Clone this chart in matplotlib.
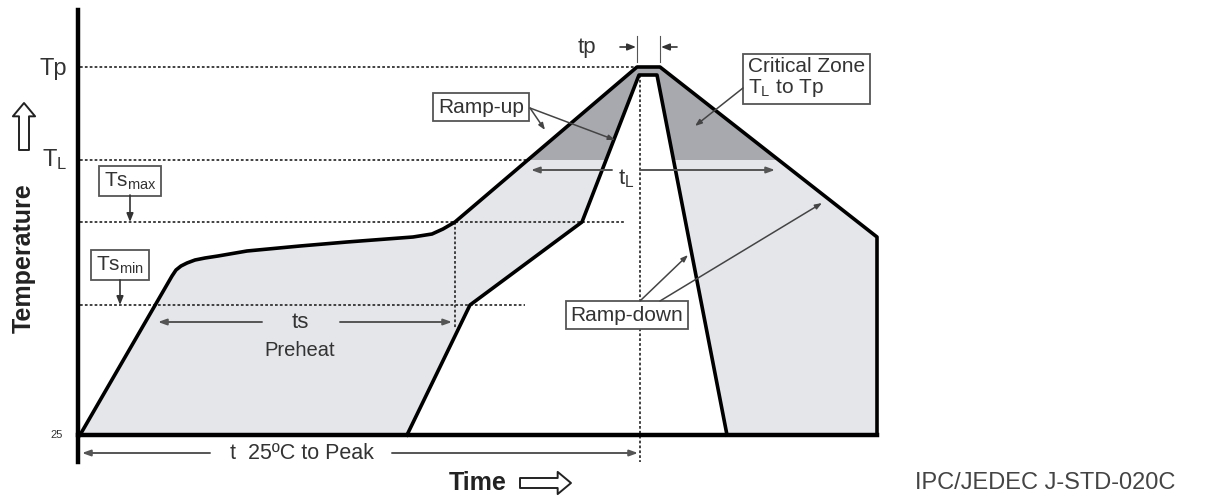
import matplotlib.pyplot as plt
from matplotlib.patches import Polygon

plt.rcParams['font.family'] = ['Liberation Sans', 'DejaVu Sans']
plt.rcParams['mathtext.fontset'] = 'custom'
plt.rcParams['mathtext.rm'] = 'Liberation Sans'
plt.rcParams['mathtext.it'] = 'Liberation Sans'

# schematic units (time to the right, temperature upward)
T_base, T_smin, T_smax, T_L, T_p = 63, 193, 276, 338, 431
T_inner_top = 423

# upper (maximum) profile
outer_t = [80, 172, 176, 181, 187, 195, 205, 218, 247, 300, 347, 413, 432, 443, 455, 637, 660, 877, 877]
outer_T = [63, 222, 228, 232, 235, 238, 240, 242, 247, 252, 256, 261, 264, 269, 276, 431, 431, 261, 63]

# lower (minimum) profile
inner_t = [407, 470, 582, 639, 657, 727]
inner_T = [63, 193, 276, 423, 423, 63]

# critical zone (above T_L)
crit_t = [528, 637, 660, 779]
crit_T = [338, 431, 431, 338]

fig = plt.figure(figsize=(12.07, 4.98), dpi=100)
ax = fig.add_axes([0, 0, 1, 1])
ax.set_xlim(0, 1207)
ax.set_ylim(0, 498)
ax.axis('off')

light = '#e4e6ea'
dark = '#a7a9ae'
txt = '#333333'
dot = dict(color='#333333', lw=1.3, linestyle=(0, (1.5, 1.2)))

ax.add_patch(Polygon(list(zip(outer_t, outer_T)), closed=True, fc=light, ec='none'))
ax.add_patch(Polygon(list(zip(crit_t, crit_T)), closed=True, fc=dark, ec='none'))
ax.add_patch(Polygon(list(zip(inner_t, inner_T)), closed=True, fc='white', ec='none'))

# guide lines
ax.plot([80, 637], [T_p, T_p], **dot)
ax.plot([80, 530], [T_L, T_L], **dot)
ax.plot([80, 625], [T_smax, T_smax], **dot)
ax.plot([80, 525], [T_smin, T_smin], **dot)
ax.plot([640, 640], [T_inner_top, 36], **dot)
ax.plot([455, 455], [T_smax, 170], **dot)

# profile lines
ax.plot(outer_t, outer_T, color='black', lw=2.6, solid_joinstyle='round')
ax.plot(inner_t, inner_T, color='black', lw=2.6, solid_joinstyle='round')
ax.plot([78, 877], [T_base, T_base], color='black', lw=3.2)
ax.plot([78, 78], [36, 488], color='black', lw=3.2)

# dimension arrows
arr = dict(arrowstyle='-|>,head_width=0.18,head_length=0.5', color='#555555', lw=1.4, shrinkA=0, shrinkB=0)
ax.annotate('', xy=(158, 176), xytext=(262, 176), arrowprops=arr)
ax.annotate('', xy=(452, 176), xytext=(340, 176), arrowprops=arr)
ax.text(300, 176, 'ts', ha='center', va='center', fontsize=16, color=txt)
ax.text(300, 148, 'Preheat', ha='center', va='center', fontsize=14.5, color=txt)

ax.annotate('', xy=(531, 328), xytext=(612, 328), arrowprops=arr)
ax.annotate('', xy=(775, 328), xytext=(640, 328), arrowprops=arr)
ax.text(626, 319, r'$\mathrm{t_L}$', ha='center', va='center', fontsize=16, color=txt)

ax.annotate('', xy=(82, 45), xytext=(210, 45), arrowprops=arr)
ax.annotate('', xy=(638, 45), xytext=(392, 45), arrowprops=arr)
ax.text(302, 45, 't  25ºC to Peak', ha='center', va='center', fontsize=15.5, color=txt)

small = dict(arrowstyle='-|>,head_width=0.2,head_length=0.5', color='#333333', lw=1.2, shrinkA=0, shrinkB=0)
ax.annotate('', xy=(636, 451), xytext=(620, 451), arrowprops=small)
ax.annotate('', xy=(661, 451), xytext=(677, 451), arrowprops=small)
ax.plot([637, 637], [436, 462], color='#555555', lw=0.8)
ax.plot([660, 660], [436, 462], color='#555555', lw=0.8)
ax.text(587, 451, 'tp', ha='center', va='center', fontsize=16, color=txt)

# labelled boxes
box = dict(boxstyle='square,pad=0.22', fc='white', ec='#555555', lw=1.3)
ax.text(130, 317, r'Ts$_{\mathrm{max}}$', ha='center', va='center', fontsize=15, color=txt, bbox=box)
ax.annotate('', xy=(130, T_smax), xytext=(130, 303), arrowprops=small)
ax.text(120, 233, r'Ts$_{\mathrm{min}}$', ha='center', va='center', fontsize=15, color=txt, bbox=box)
ax.annotate('', xy=(120, T_smin), xytext=(120, 218), arrowprops=small)

ax.text(481, 391, 'Ramp-up', ha='center', va='center', fontsize=15, color=txt, bbox=box)
thin = dict(arrowstyle='-|>,head_width=0.15,head_length=0.4', color='#444444', lw=1.1, shrinkA=0, shrinkB=0)
ax.annotate('', xy=(545, 368), xytext=(530, 390), arrowprops=thin)
ax.annotate('', xy=(615, 358), xytext=(530, 390), arrowprops=thin)

ax.text(748, 420, 'Critical Zone\n' + r'T$_{\mathrm{L}}$ to Tp', ha='left', va='center', fontsize=15,
        color=txt, linespacing=1.05,
        bbox=dict(boxstyle='square,pad=0.25', fc='white', ec='#555555', lw=1.3))
ax.annotate('', xy=(695, 372), xytext=(743, 410), arrowprops=thin)

ax.text(627, 183, 'Ramp-down', ha='center', va='center', fontsize=15, color=txt, bbox=box)
ax.annotate('', xy=(688, 243), xytext=(640, 197), arrowprops=thin)
ax.annotate('', xy=(822, 295), xytext=(660, 197), arrowprops=thin)

# axis texts
ax.text(53, T_p - 2, 'Tp', ha='center', va='center', fontsize=17, color=txt)
ax.text(55, T_L, r'T$_{\mathrm{L}}$', ha='center', va='center', fontsize=17, color=txt)
ax.text(57, T_base, '25', ha='center', va='center', fontsize=8, color=txt)

ax.text(24, 240, 'Temperature', rotation=90, ha='center', va='center', fontsize=18, fontweight='bold', color='#222222')
hollow = dict(arrowstyle='simple,head_width=1.0,head_length=0.6,tail_width=0.45', fc='white', ec='#222222', lw=1.4,
              shrinkA=0, shrinkB=0, mutation_scale=16)
ax.annotate('', xy=(24, 395), xytext=(24, 348), arrowprops=hollow)

ax.text(478, 15, 'Time', ha='center', va='center', fontsize=18, fontweight='bold', color='#222222')
ax.annotate('', xy=(571, 15), xytext=(520, 15), arrowprops=hollow)

ax.text(1045, 15, 'IPC/JEDEC J-STD-020C', ha='center', va='center', fontsize=17, color='#444444')

fig.savefig('out.png', dpi=100)
